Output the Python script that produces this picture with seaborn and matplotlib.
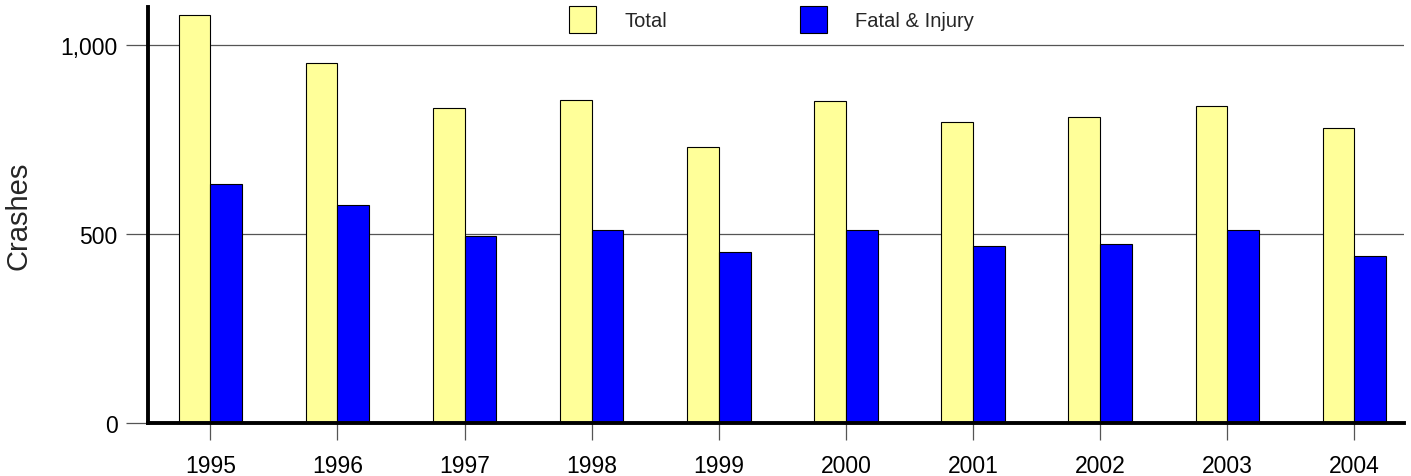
import matplotlib
matplotlib.use("Agg")
import matplotlib.pyplot as plt
import seaborn as sns
import pandas as pd
from matplotlib.ticker import FuncFormatter
from matplotlib.patches import Patch

years = ["1995", "1996", "1997", "1998", "1999", "2000", "2001", "2002", "2003", "2004"]
total = [1079, 952, 833, 854, 730, 852, 796, 810, 839, 780]
fatal_injury = [632, 577, 495, 511, 452, 511, 468, 474, 511, 442]
series_names = ["Total", "Fatal & Injury"]
colors = ["#FFFF99", "#0000FF"]

df = pd.DataFrame({
    "Year": years * 2,
    "Crashes": total + fatal_injury,
    "Series": [series_names[0]] * len(years) + [series_names[1]] * len(years),
})

sns.set_theme(style="white")
plt.rcParams["font.family"] = ["Liberation Sans", "DejaVu Sans"]

fig = plt.figure(figsize=(14.11, 4.77), dpi=100)
ax = fig.add_axes([148 / 1411, 53 / 477, (1404 - 148) / 1411, (424 - 8) / 477])

sns.barplot(data=df, x="Year", y="Crashes", hue="Series", palette=colors,
            width=0.5, dodge=True, edgecolor="black", linewidth=0.8,
            saturation=1, ax=ax, legend=False, errorbar=None)

ax.set_ylim(0, 1100)
ax.set_xlim(-0.49, 9.39)
ax.set_yticks([0, 500, 1000])
ax.yaxis.set_major_formatter(FuncFormatter(lambda v, p: f"{int(v):,}"))
for yv in [500, 1000]:
    ax.axhline(yv, color="#555555", linewidth=0.9, zorder=0)

for s in ["top", "right"]:
    ax.spines[s].set_visible(False)
ax.spines["left"].set_linewidth(2.8)
ax.spines["bottom"].set_linewidth(2.8)
ax.spines["left"].set_color("black")
ax.spines["bottom"].set_color("black")
ax.spines["bottom"].set_zorder(5)

ax.tick_params(axis="y", which="major", left=True, length=16, width=0.9, color="#555555",
               labelsize=16.5, pad=6, labelcolor="black")
ax.tick_params(axis="x", which="major", bottom=True, length=12, width=0.9, color="#555555",
               labelsize=16.5, pad=10, labelcolor="black")
ax.set_xlabel("")
ax.set_ylabel("Crashes", fontsize=21)
ax.yaxis.set_label_coords(-0.0916, 0.5)

handles = [Patch(facecolor=c, edgecolor="black", linewidth=0.8) for c in colors]
fig.legend(handles, series_names, loc="center", ncol=2,
           bbox_to_anchor=(771.5 / 1411, 1 - 20.5 / 477), bbox_transform=fig.transFigure,
           frameon=False, fontsize=14.5, handlelength=1.34, handleheight=1.69,
           handletextpad=1.4, columnspacing=6.6, borderpad=0)

fig.savefig("out.png", dpi=100)
